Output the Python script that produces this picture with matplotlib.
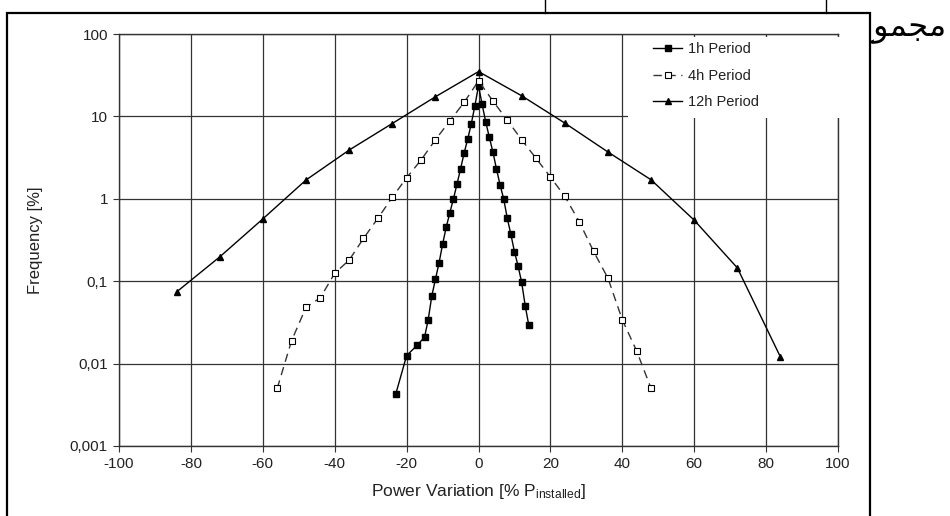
import matplotlib.pyplot as plt
from matplotlib.patches import Rectangle
from matplotlib.lines import Line2D
from matplotlib.ticker import FixedLocator, FixedFormatter

plt.rcParams['font.family'] = ['Liberation Sans', 'DejaVu Sans']
plt.rcParams['mathtext.fontset'] = 'custom'
plt.rcParams['mathtext.rm'] = 'Liberation Sans'
plt.rcParams['mathtext.it'] = 'Liberation Sans'

# 1h period
x_1h = [-23, -20, -17, -15, -14, -13, -12, -11, -10, -9, -8, -7, -6, -5, -4, -3, -2, -1,
        0, 1, 2, 3, 4, 5, 6, 7, 8, 9, 10, 11, 12, 13, 14]
freq_1h = [0.0043, 0.0125, 0.0168, 0.021, 0.034, 0.066, 0.105, 0.165, 0.28, 0.45, 0.67, 0.99,
           1.5, 2.3, 3.6, 5.3, 8.2, 13.5,
           23.6, 14.0, 8.6, 5.6, 3.7, 2.3, 1.47, 1.0, 0.58, 0.37, 0.228, 0.153, 0.097, 0.05, 0.029]

# 4h period
x_4h = [-56, -52, -48, -44, -40, -36, -32, -28, -24, -20, -16, -12, -8, -4,
        0, 4, 8, 12, 16, 20, 24, 28, 32, 36, 40, 44, 48]
freq_4h = [0.005, 0.019, 0.048, 0.063, 0.125, 0.18, 0.33, 0.58, 1.04, 1.8, 2.95, 5.2, 8.8, 14.8,
           27.0, 15.4, 9.0, 5.2, 3.1, 1.84, 1.07, 0.53, 0.23, 0.109, 0.034, 0.0142, 0.005]

# 12h period
x_12h = [-84, -72, -60, -48, -36, -24, -12, 0, 12, 24, 36, 48, 60, 72, 84]
freq_12h = [0.074, 0.197, 0.57, 1.69, 3.9, 8.2, 17.3, 35.0, 17.8, 8.3, 3.7, 1.7, 0.55, 0.145, 0.012]

x_ticks = list(range(-100, 101, 20))
y_ticks = [0.001, 0.01, 0.1, 1, 10, 100]
y_tick_labels = ['0,001', '0,01', '0,1', '1', '10', '100']

legend_labels = ['1h Period', '4h Period', '12h Period']
side_text = '\uFEC9\uFEEE\uFEE4\uFEA0\uFEE3'  # مجموع


def draw_page(fig):
    # text of the page behind the chart, partly hidden by the chart box
    fig.text(0.996, 0.944, side_text, ha='right', va='center', fontsize=23,
             family=['DejaVu Sans'], zorder=-3)
    fig.add_artist(Rectangle((0.0074, -0.1), 0.9084, 1.0748, transform=fig.transFigure,
                             facecolor='white', edgecolor='black', linewidth=1.6, zorder=-2))
    for xp in [0.574, 0.869]:
        fig.add_artist(Line2D([xp, xp], [0.975, 1.0], transform=fig.transFigure,
                              color='black', linewidth=1.0, zorder=-2))


def plot_chart():
    fig = plt.figure(figsize=(9.5, 5.16), dpi=100)
    draw_page(fig)
    ax = fig.add_axes([0.1253, 0.1357, 0.7568, 0.7984])
    ax.set_facecolor('none')

    ax.plot(x_1h, freq_1h, color='black', linewidth=1.0, marker='s', markersize=5,
            markerfacecolor='black', markeredgecolor='black', label=legend_labels[0], zorder=4)
    ax.plot(x_4h, freq_4h, color='#333333', linewidth=1.0, linestyle=(0, (6, 4)), marker='s',
            markersize=5, markerfacecolor='white', markeredgecolor='black', markeredgewidth=0.8,
            label=legend_labels[1], zorder=4)
    ax.plot(x_12h, freq_12h, color='black', linewidth=1.0, marker='^', markersize=5,
            markerfacecolor='black', markeredgecolor='black', label=legend_labels[2], zorder=4)

    ax.set_yscale('log')
    ax.set_xlim(-100, 100)
    ax.set_ylim(0.001, 100)
    ax.set_xticks(x_ticks)
    ax.set_xticklabels([str(t) for t in x_ticks])
    ax.yaxis.set_major_locator(FixedLocator(y_ticks))
    ax.yaxis.set_major_formatter(FixedFormatter(y_tick_labels))
    ax.yaxis.set_minor_locator(FixedLocator([]))
    ax.tick_params(axis='both', labelsize=11, length=4, width=0.8, color='#333333',
                   labelcolor='#222222', pad=4)
    ax.grid(True, which='major', color='#333333', linewidth=0.9)
    for spine in ax.spines.values():
        spine.set_color('#333333')
        spine.set_linewidth(1.0)

    ax.set_xlabel(r'Power Variation [% P$_{\mathrm{installed}}$]', fontsize=12.5,
                  color='#222222', labelpad=8)
    ax.set_ylabel('Frequency [%]', fontsize=12, color='#222222', labelpad=19)

    # white box behind the legend hides the grid there
    ax.add_patch(Rectangle((0.708, 0.795), 0.3, 0.198, transform=ax.transAxes,
                           facecolor='white', edgecolor='none', zorder=3, clip_on=False))
    leg = ax.legend(loc='upper left', bbox_to_anchor=(0.743, 0.98), frameon=False,
                    fontsize=10.5, handlelength=2.0, handletextpad=0.4, labelspacing=0.85,
                    borderpad=0, borderaxespad=0)
    leg.set_zorder(5)
    for text in leg.get_texts():
        text.set_color('#222222')

    fig.savefig('out.png', dpi=100)


def main():
    plot_chart()


if __name__ == "__main__":
    main()
